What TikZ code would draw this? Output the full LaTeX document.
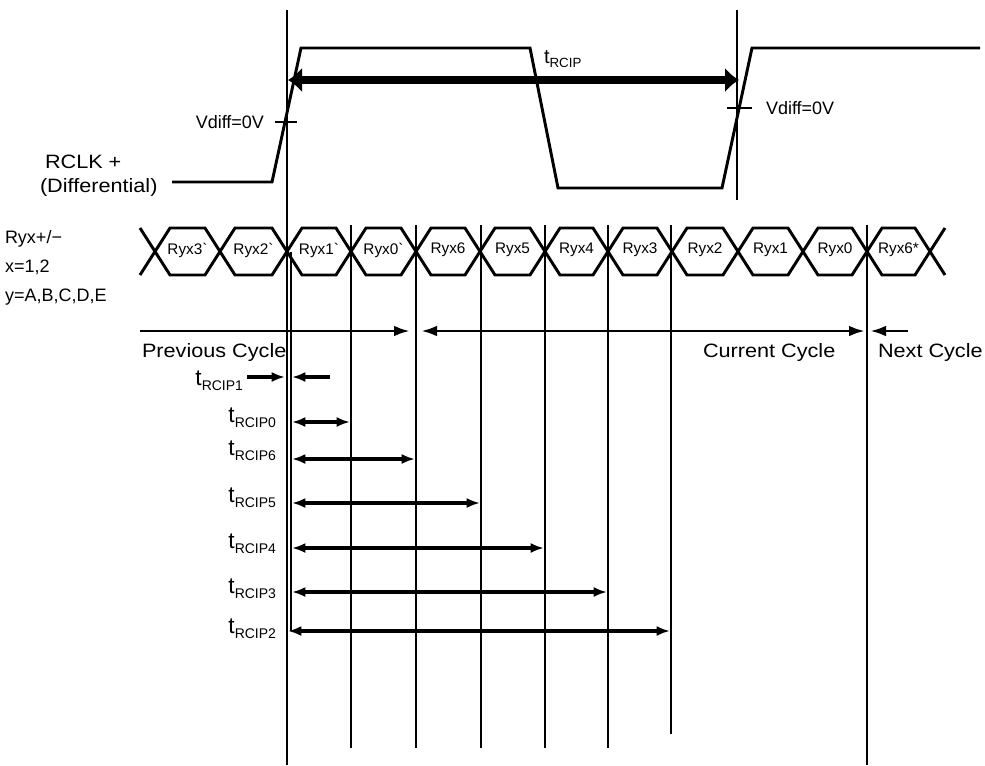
\documentclass[tikz,border=0pt]{standalone}
\usepackage{fontspec}
\setmainfont{Liberation Sans}
\newfontfamily\widesans[FakeStretch=1.12]{Liberation Sans}
\usetikzlibrary{arrows.meta}
\newcommand\tsub[1]{{\fontsize{17}{17}\selectfont t}\raisebox{-4pt}{\fontsize{10.5}{10.5}\selectfont #1}}
\newcommand\tsubtop[1]{{\fontsize{15}{15}\selectfont t}\raisebox{-3.5pt}{\fontsize{10}{10}\selectfont #1}}
\begin{document}
\begin{tikzpicture}[x=0.75pt,y=-0.75pt,
  every node/.style={inner sep=0pt, outer sep=0pt},
  vline/.style={line width=1.5pt},
  wave/.style={line width=2.2pt, line join=miter},
  hexl/.style={line width=2.2pt, line join=miter},
  dbl/.style={line width=2.4pt, {Latex[length=10pt,width=7.5pt]}-{Latex[length=10pt,width=7.5pt]}},
  sgl/.style={line width=2.4pt, -{Latex[length=10pt,width=7.5pt]}},
  cyc/.style={line width=2.2pt, {Latex[length=12pt,width=8pt]}-{Latex[length=12pt,width=8pt]}},
  cycs/.style={line width=2.2pt, -{Latex[length=12pt,width=8pt]}},
  bigarrow/.style={line width=6pt, {Latex[length=10.5pt,width=19pt]}-{Latex[length=10.5pt,width=19pt]}},
  big/.style={font=\fontsize{13.5}{15}\selectfont},
  cyclab/.style={font=\widesans\fontsize{14.5}{16}\selectfont},
  hexlab/.style={font=\fontsize{11.5}{12}\selectfont},
]
\useasboundingbox (0,0) rectangle (985,765);

% ---- clock waveform ----
\draw[wave] (172,182) -- (272,182) -- (301,48) -- (530,48) -- (558,188) -- (722,188) -- (752,48) -- (980,48);
\draw[wave] (275,122) -- (297,122);
\draw[wave] (727,108) -- (752,108);

% ---- vertical reference lines ----
\coordinate (m0t) at (287,10);  \coordinate (m0b) at (287,765);
\coordinate (m1t) at (291,252); \coordinate (m1b) at (291,631);
\coordinate (v1t) at (351,225); \coordinate (v1b) at (351,748);
\coordinate (v2t) at (416,225); \coordinate (v2b) at (416,748);
\coordinate (v3t) at (481,225); \coordinate (v3b) at (481,748);
\coordinate (v4t) at (545,225); \coordinate (v4b) at (545,748);
\coordinate (v5t) at (608,225); \coordinate (v5b) at (608,748);
\coordinate (v6t) at (671,225); \coordinate (v6b) at (671,734);
\coordinate (v7t) at (867,225); \coordinate (v7b) at (867,765);
\coordinate (c2t) at (737,10);  \coordinate (c2b) at (737,200);
\foreach \n in {m0,m1,v1,v2,v3,v4,v5,v6,v7,c2}{
  \draw[vline] (\n t) -- (\n b);
}

% ---- thick t_RCIP arrow ----
\coordinate (bigL) at (288,80); \coordinate (bigR) at (739,80);
\draw[bigarrow] (bigL) -- (bigR);
\node[anchor=base west] (trcip) at (544,63) {\tsubtop{RCIP}};

% ---- labels of the clock ----
\node[cyclab, anchor=base west] (rclk) at (45,168) {RCLK +};
\node[cyclab, anchor=base west] (diff) at (40,192) {(Differential)};
\node[big, anchor=east] (vd1) at (264,122) {Vdiff=0V};
\node[big, anchor=west] (vd2) at (766,108) {Vdiff=0V};

% ---- data eye row ----
\draw[hexl] (140,228) -- (155,251.5) -- (140,275);
\draw[hexl] (945,228) -- (930,251.5) -- (945,275);
\foreach \a/\b/\t [count=\i] in {155/220/{Ryx3\textasciigrave},220/287/{Ryx2\textasciigrave},287/351/{Ryx1\textasciigrave},351/416/{Ryx0\textasciigrave},416/480/Ryx6,480/545/Ryx5,545/608/Ryx4,608/672/Ryx3,672/738/Ryx2,738/803/Ryx1,803/867/Ryx0,867/930/{Ryx6*}}{
  \draw[hexl] (\a,251.5) -- (\a+15,228) -- (\b-15,228) -- (\b,251.5) -- (\b-15,275) -- (\a+15,275) -- cycle;
  \node[hexlab] (h\i) at ({(\a+\b)/2},250) {\t};
}
\node[big, anchor=base west] (ryx) at (5,243) {Ryx+/−};
\node[big, anchor=base west] (xl) at (5,272) {x=1,2};
\node[big, anchor=base west] (yl) at (5,301) {y=A,B,C,D,E};

% ---- cycle arrows ----
\coordinate (pA) at (140,331); \coordinate (pB) at (410,331);
\coordinate (cA) at (421,331); \coordinate (cB) at (865,331);
\coordinate (nA) at (908,331); \coordinate (nB) at (870,331);
\draw[cycs] (pA) -- (pB);
\draw[cyc] (cA) -- (cB);
\draw[cycs] (nA) -- (nB);
\node[cyclab, anchor=base west] (prev) at (142,357) {Previous Cycle};
\node[cyclab, anchor=base west] (curr) at (703,357) {Current Cycle};
\node[cyclab, anchor=base west] (next) at (878,357) {Next Cycle};

% ---- timing arrows ----
\coordinate (r1a) at (247,377); \coordinate (r1b) at (285,377);
\coordinate (r1c) at (330,377); \coordinate (r1d) at (292,377);
\draw[sgl] (r1a) -- (r1b);
\draw[sgl] (r1c) -- (r1d);
\node[anchor=base east] (l1) at (243,385) {\tsub{RCIP1}};

\coordinate (r0a) at (292,422); \coordinate (r0b) at (350,422);
\draw[dbl] (r0a) -- (r0b);
\node[anchor=base east] (l0) at (276,422) {\tsub{RCIP0}};

\coordinate (r6a) at (292,459); \coordinate (r6b) at (415,459);
\draw[dbl] (r6a) -- (r6b);
\node[anchor=base east] (l6) at (276,455) {\tsub{RCIP6}};

\coordinate (r5a) at (292,503); \coordinate (r5b) at (480,503);
\draw[dbl] (r5a) -- (r5b);
\node[anchor=base east] (l5) at (276,502) {\tsub{RCIP5}};

\coordinate (r4a) at (292,548); \coordinate (r4b) at (544,548);
\draw[dbl] (r4a) -- (r4b);
\node[anchor=base east] (l4) at (276,548) {\tsub{RCIP4}};

\coordinate (r3a) at (292,592); \coordinate (r3b) at (607,592);
\draw[dbl] (r3a) -- (r3b);
\node[anchor=base east] (l3) at (276,593) {\tsub{RCIP3}};

\coordinate (r2a) at (288,631); \coordinate (r2b) at (670,631);
\draw[dbl] (r2a) -- (r2b);
\node[anchor=base east] (l2) at (276,633) {\tsub{RCIP2}};
\end{tikzpicture}
\end{document}
